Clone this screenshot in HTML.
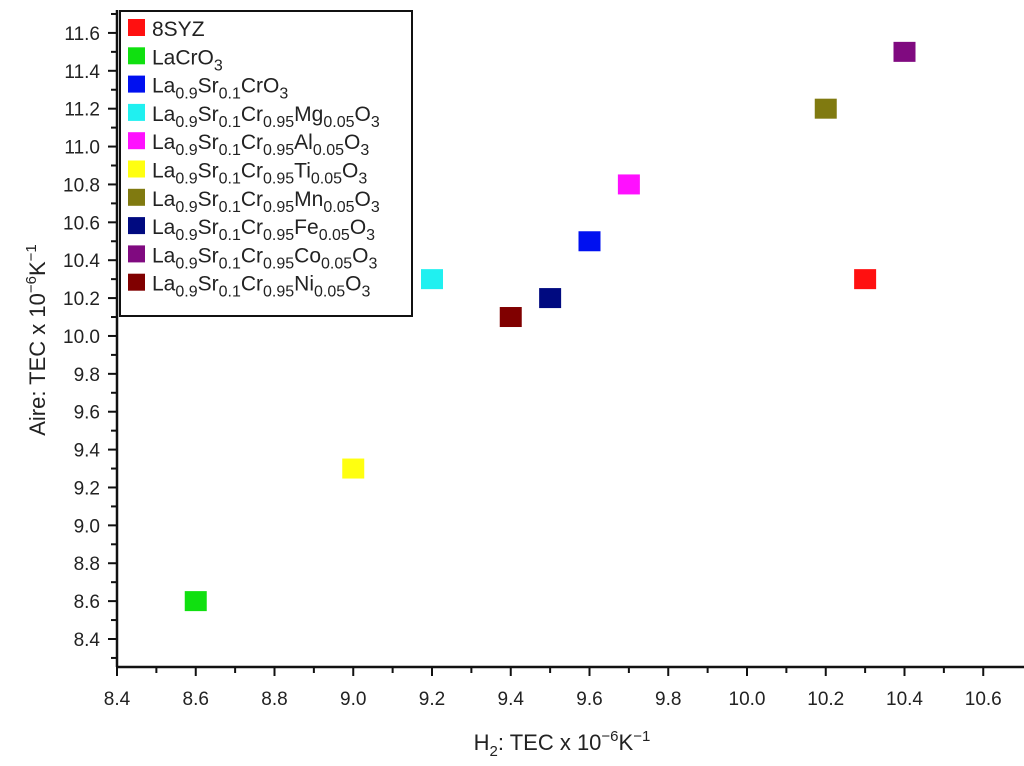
<!DOCTYPE html>
<html><head><meta charset="utf-8"><style>
body{margin:0;background:#fff;}
svg text{font-family:"Liberation Sans",sans-serif;fill:#222;}
</style></head><body>
<svg id="chart" width="1024" height="761" xmlns="http://www.w3.org/2000/svg">
<g id="axes"></g><g id="marks"></g><g id="legend"></g>
<text x="562" y="750" font-size="22" text-anchor="middle">H<tspan font-size="15" dy="6">2</tspan><tspan dy="-6">: TEC x 10</tspan><tspan font-size="15" dy="-9">−6</tspan><tspan dy="9">K</tspan><tspan font-size="15" dy="-9">−1</tspan></text>
<text transform="translate(45,340) rotate(-90)" font-size="22" text-anchor="middle">Aire: TEC x 10<tspan font-size="15" dy="-9">−6</tspan><tspan dy="9">K</tspan><tspan font-size="15" dy="-9">−1</tspan></text>
</svg>
<script>
const names=["8SYZ","LaCrO3","La0.9Sr0.1CrO3","Mg","Al","Ti","Mn","Fe","Co","Ni"];
const xVals=[10.3,8.6,9.6,9.2,9.7,9.0,10.2,9.5,10.4,9.4];
const yVals=[10.3,8.6,10.5,10.3,10.8,9.3,11.2,10.2,11.5,10.1];
const colors=["#ff1010","#10e010","#0010f0","#20f0f0","#ff10ff","#ffff10","#807a10","#000a80","#800a80","#800000"];
const xTicks=[8.4,8.6,8.8,9.0,9.2,9.4,9.6,9.8,10.0,10.2,10.4,10.6];
const yTicks=[8.4,8.6,8.8,9.0,9.2,9.4,9.6,9.8,10.0,10.2,10.4,10.6,10.8,11.0,11.2,11.4,11.6];
const NS="http://www.w3.org/2000/svg";
const X0=117,Y0=667;
function sx(v){return 117+(v-8.4)*393.75;}
function sy(v){return 639+(8.4-v)*189.4;}
function mk(t,a,p){const e=document.createElementNS(NS,t);for(const k in a)e.setAttribute(k,a[k]);p.appendChild(e);return e;}
const ax=document.getElementById('axes');
let l=mk('line',{x1:X0,y1:Y0,x2:1024,y2:Y0,stroke:'#111','stroke-width':2.5},ax);


l=mk('line',{x1:X0,y1:10,x2:X0,y2:Y0,stroke:'#111','stroke-width':2.5},ax);


for(let i=0;i<=23;i++){const v=8.4+i*0.1;const x=sx(v);if(x>1022)break;mk('line',{x1:x,y1:Y0,x2:x,y2:Y0+(i%2?6:9),stroke:'#111','stroke-width':2},ax);}
for(let i=-2;i<=35;i++){const v=8.4+i*0.1;const y=sy(v);if(y<12||y>Y0)continue;mk('line',{x1:X0,y1:y,x2:X0-(i%2?6:9),y2:y,stroke:'#111','stroke-width':2},ax);}
xTicks.forEach(v=>{const t=mk('text',{x:sx(v),y:Y0+38,'font-size':19,'text-anchor':'middle'},ax);t.textContent=v.toFixed(1);

});
yTicks.forEach(v=>{const t=mk('text',{x:X0-17,y:sy(v)+7,'font-size':19,'text-anchor':'end'},ax);t.textContent=v.toFixed(1);

});
const mg=document.getElementById('marks');
xVals.forEach((v,i)=>{const r=mk('rect',{x:sx(v)-11,y:sy(yVals[i])-10,width:22,height:20,fill:colors[i]},mg);

});
const lg=document.getElementById('legend');
const lb=mk('rect',{x:120,y:11,width:292,height:305,fill:'#fff',stroke:'#111','stroke-width':2},lg);


const labelsHTML=['8SYZ','LaCrO<tspan class="s" dy="6">3</tspan>','La<tspan class="s" dy="6">0.9</tspan><tspan dy="-6">Sr</tspan><tspan class="s" dy="6">0.1</tspan><tspan dy="-6">CrO</tspan><tspan class="s" dy="6">3</tspan>'];
const pre='La<tspan class="s" dy="6">0.9</tspan><tspan dy="-6">Sr</tspan><tspan class="s" dy="6">0.1</tspan><tspan dy="-6">Cr</tspan><tspan class="s" dy="6">0.95</tspan><tspan dy="-6">';
["Mg","Al","Ti","Mn","Fe","Co","Ni"].forEach(e=>labelsHTML.push(pre+e+'</tspan><tspan class="s" dy="6">0.05</tspan><tspan dy="-6">O</tspan><tspan class="s" dy="6">3</tspan>'));
labelsHTML.forEach((h,i)=>{const y=28+i*28.3;
const r=mk('rect',{x:128,y:y-9,width:17,height:17,fill:colors[i]},lg);


const t=mk('text',{x:152,y:y+8,'font-size':21},lg);t.innerHTML=h;
t.querySelectorAll('.s').forEach(s=>s.setAttribute('font-size','16'));

});
</script>
</body></html>
